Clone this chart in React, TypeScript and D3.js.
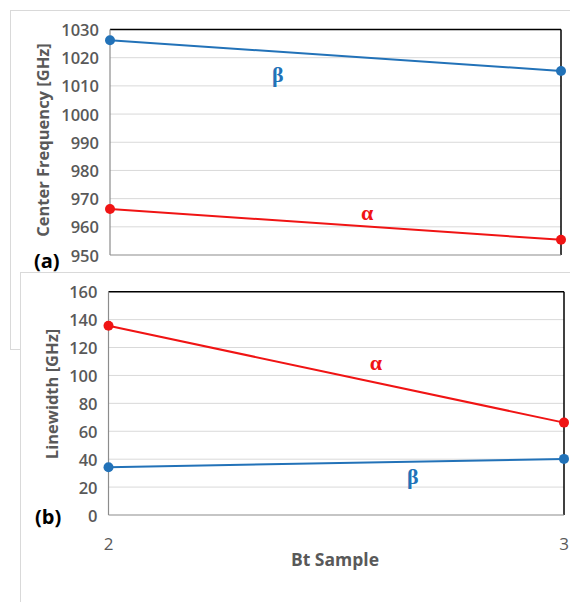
import * as d3 from 'd3';

const samples = [2, 3];
const centerAlpha = [966.3, 955.4];
const centerBeta = [1026.2, 1015.3];
const widthAlpha = [135.6, 66.2];
const widthBeta = [34.2, 40.2];
const centerTicks = [950, 960, 970, 980, 990, 1000, 1010, 1020, 1030];
const widthTicks = [0, 20, 40, 60, 80, 100, 120, 140, 160];

const RED = '#f01414';
const BLUE = '#2272b8';
const GRAY = '#595959';
const FONT = '"Open Sans", "Noto Sans", sans-serif';
const SERIF = '"Liberation Serif", "DejaVu Serif", serif';

type PanelProps = {
  left: number; right: number; top: number; bottom: number;
  domain: [number, number]; ticks: number[];
  alpha: number[]; beta: number[];
  alphaLabel: [number, number]; betaLabel: [number, number];
};

function Panel(p: PanelProps) {
  const x = d3.scaleLinear().domain([2, 3]).range([p.left, p.right]);
  const y = d3.scaleLinear().domain(p.domain).range([p.bottom, p.top]);
  const line = d3.line<number>().x((_, i) => x(samples[i])).y((d) => y(d));
  const series = [
    { vals: p.alpha, color: RED, name: 'α', pos: p.alphaLabel },
    { vals: p.beta, color: BLUE, name: 'β', pos: p.betaLabel },
  ];
  return (
    <g>
      {p.ticks.slice(1).map((t) => (
        <line key={t} x1={p.left} x2={p.right} y1={y(t)} y2={y(t)} stroke="#d9d9d9" strokeWidth={1} />
      ))}
      {p.ticks.map((t) => (
        <text key={'l' + t} x={p.left - 11} y={y(t)} textAnchor="end" dominantBaseline="central"
          fontFamily={FONT} fontSize={16.5} fontWeight={600} fill={GRAY}>{t}</text>
      ))}
      <line x1={p.left} x2={p.right} y1={p.top} y2={p.top} stroke="#000" strokeWidth={1.5} />
      <line x1={p.right} x2={p.right} y1={p.top} y2={p.bottom} stroke="#000" strokeWidth={1.5} />
      <line x1={p.left} x2={p.left} y1={p.top} y2={p.bottom} stroke="#8c8c8c" strokeWidth={1.2} />
      <line x1={p.left} x2={p.right} y1={p.bottom} y2={p.bottom} stroke="#8c8c8c" strokeWidth={1.2} />
      {series.map((s) => (
        <g key={s.name}>
          <path d={line(s.vals) || ''} fill="none" stroke={s.color} strokeWidth={2} />
          {s.vals.map((v, i) => (
            <circle key={i} cx={x(samples[i])} cy={y(v)} r={5} fill={s.color} />
          ))}
          <text x={x(s.pos[0])} y={y(s.pos[1])} textAnchor="middle" dominantBaseline="central"
            fontFamily={SERIF} fontSize={22} fontWeight={700} fill={s.color}>{s.name}</text>
        </g>
      ))}
    </g>
  );
}

export default function App() {
  const bx = d3.scaleLinear().domain([2, 3]).range([108.5, 564]);
  return (
    <div style={{ position: 'absolute', left: 0, top: 0 }}>
      <svg width={570} height={602} style={{ display: 'block', background: '#fff' }}>
        <rect x={10.5} y={10.5} width={570} height={339} fill="#fff" stroke="#d9d9d9" />
        <Panel left={110} right={561} top={29.5} bottom={255} domain={[950, 1030]} ticks={centerTicks}
          alpha={centerAlpha} beta={centerBeta} alphaLabel={[2.57, 965]} betaLabel={[2.372, 1014.2]} />
        <text transform="translate(42,140) rotate(-90)" textAnchor="middle" dominantBaseline="central"
          fontFamily={FONT} fontSize={16.5} fontWeight={700} fill={GRAY}>Center Frequency [GHz]</text>
        <text x={34} y={268} fontFamily={FONT} fontSize={20} fontWeight={700} fill="#000">(a)</text>

        <rect x={20.5} y={272.5} width={570} height={340} fill="#fff" stroke="#d9d9d9" />
        <Panel left={108.5} right={564} top={291.7} bottom={515} domain={[0, 160]} ticks={widthTicks}
          alpha={widthAlpha} beta={widthBeta} alphaLabel={[2.587, 109.6]} betaLabel={[2.668, 27.3]} />
        <text transform="translate(51,394) rotate(-90)" textAnchor="middle" dominantBaseline="central"
          fontFamily={FONT} fontSize={16.5} fontWeight={700} fill={GRAY}>Linewidth [GHz]</text>
        <text x={35} y={524} fontFamily={FONT} fontSize={20} fontWeight={700} fill="#000">(b)</text>
        {samples.map((s) => (
          <text key={s} x={bx(s)} y={543} textAnchor="middle" dominantBaseline="central"
            fontFamily={FONT} fontSize={17} fill={GRAY}>{s}</text>
        ))}
        <text x={335} y={559} textAnchor="middle" dominantBaseline="central"
          fontFamily={FONT} fontSize={17.5} fontWeight={700} fill={GRAY}>Bt Sample</text>
      </svg>
    </div>
  );
}
